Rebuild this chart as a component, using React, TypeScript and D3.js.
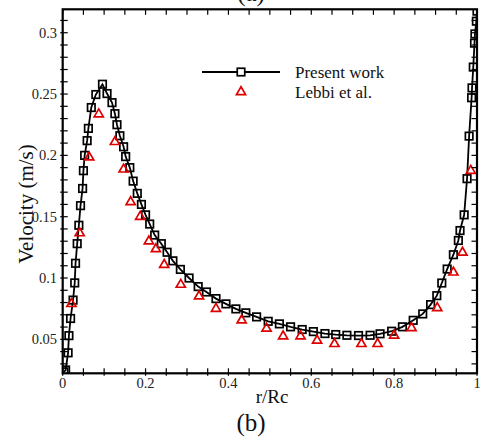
import { useEffect, useRef } from "react";
import * as d3 from "d3";

// Present work (simulation), r/Rc vs velocity
const presentR = [
  0.003, 0.007, 0.013, 0.015, 0.019, 0.025, 0.029, 0.031, 0.035, 0.039, 0.043,
  0.048, 0.05, 0.053, 0.059, 0.062, 0.069, 0.08, 0.096, 0.107, 0.119, 0.126,
  0.131, 0.138, 0.147, 0.152, 0.162, 0.17, 0.18, 0.19, 0.2, 0.21, 0.222, 0.238,
  0.252, 0.266, 0.284, 0.305, 0.327, 0.347, 0.37, 0.394, 0.418, 0.442, 0.468,
  0.496, 0.523, 0.55, 0.578, 0.605, 0.633, 0.659, 0.686, 0.714, 0.742, 0.766,
  0.794, 0.82, 0.846, 0.869, 0.888, 0.903, 0.915, 0.928, 0.943, 0.955, 0.959,
  0.969, 0.976, 0.981, 0.987, 0.988, 0.991, 0.994, 0.995, 0.9985, 1.0,
];
const presentV = [
  0.0235, 0.025, 0.039, 0.053, 0.067, 0.082, 0.096, 0.112, 0.128, 0.143, 0.159,
  0.173, 0.1875, 0.2, 0.212, 0.222, 0.239, 0.2496, 0.258, 0.2504, 0.243, 0.234,
  0.225, 0.216, 0.207, 0.199, 0.19, 0.179, 0.169, 0.16, 0.1515, 0.144, 0.135,
  0.128, 0.121, 0.114, 0.107, 0.1, 0.093, 0.0886, 0.0832, 0.0789, 0.0748,
  0.0716, 0.0683, 0.0647, 0.0626, 0.0602, 0.058, 0.0563, 0.0547, 0.0539,
  0.0533, 0.0531, 0.0533, 0.0545, 0.0566, 0.0602, 0.0655, 0.0707, 0.0783,
  0.0856, 0.0959, 0.1073, 0.119, 0.1306, 0.1387, 0.1515, 0.181, 0.2157, 0.247,
  0.255, 0.272, 0.2915, 0.299, 0.3094, 0.3176,
];

// Lebbi et al. (experiment)
const lebbiR = [
  0.021, 0.041, 0.064, 0.087, 0.126, 0.147, 0.164, 0.187, 0.208, 0.225, 0.245,
  0.285, 0.329, 0.37, 0.432, 0.492, 0.532, 0.574, 0.614, 0.656, 0.721, 0.76,
  0.8, 0.842, 0.904, 0.943, 0.965, 0.985,
];
const lebbiV = [
  0.0789, 0.1366, 0.1984, 0.2336, 0.211, 0.1886, 0.162, 0.15, 0.13, 0.1236,
  0.1108, 0.0946, 0.0851, 0.075, 0.0655, 0.0588, 0.0525, 0.0525, 0.049, 0.0463,
  0.0463, 0.0463, 0.0531, 0.0593, 0.0756, 0.1046, 0.1208, 0.1875,
];

const xTicks = [0, 0.2, 0.4, 0.6, 0.8, 1];
const xTickLabels = ["0", "0.2", "0.4", "0.6", "0.8", "1"];
const yTicks = [0.05, 0.1, 0.15, 0.2, 0.25, 0.3];
const yTickLabels = ["0.05", "0.1", "0.15", "0.2", "0.25", "0.3"];
const seriesNames = ["Present work", "Lebbi et al."];

const W = 481;
const H = 438;
const FONT = "'Liberation Serif', 'Times New Roman', serif";

export default function App() {
  const svgRef = useRef(null);

  useEffect(() => {
    const svg = d3.select(svgRef.current);
    svg.selectAll("*").remove();

    const left = 62.7, right = 477, top = 9.3, bottom = 373.3;
    const x = d3.scaleLinear().domain([0, 1]).range([left, right]);
    const y = d3.scaleLinear().domain([0.0223, 0.3191]).range([bottom, top]);

    svg.append("defs").append("clipPath").attr("id", "plotclip")
      .append("rect").attr("x", left).attr("y", top)
      .attr("width", right - left).attr("height", bottom - top);

    const plot = svg.append("g").attr("clip-path", "url(#plotclip)");

    const present = presentR.map((r, i) => [r, presentV[i]]);
    const lebbi = lebbiR.map((r, i) => [r, lebbiV[i]]);

    const line = d3.line().x((d) => x(d[0])).y((d) => y(d[1]));
    plot.append("path").datum(present)
      .attr("d", line).attr("fill", "none")
      .attr("stroke", "#000").attr("stroke-width", 1.8);

    const sq = 7.5;
    plot.selectAll(".sq").data(present).enter().append("rect")
      .attr("x", (d) => x(d[0]) - sq / 2).attr("y", (d) => y(d[1]) - sq / 2)
      .attr("width", sq).attr("height", sq)
      .attr("fill", "none").attr("stroke", "#000").attr("stroke-width", 1.7);

    const tri = d3.symbol().type(d3.symbolTriangle).size(36);
    plot.selectAll(".tri").data(lebbi).enter().append("path")
      .attr("d", tri)
      .attr("transform", (d) => `translate(${x(d[0])},${y(d[1])})`)
      .attr("fill", "none").attr("stroke", "#dd0000").attr("stroke-width", 1.7);

    // ticks
    const xMinor = d3.range(0, 1.0001, 0.05);
    const yMinor = d3.range(0.03, 0.3191, 0.01);
    const tk = svg.append("g").attr("stroke", "#000").attr("stroke-width", 1.2);
    xMinor.forEach((t) => {
      tk.append("line").attr("x1", x(t)).attr("x2", x(t))
        .attr("y1", bottom + 2.5).attr("y2", bottom - 5);
      tk.append("line").attr("x1", x(t)).attr("x2", x(t))
        .attr("y1", top).attr("y2", top + 5.5);
    });
    yMinor.forEach((t) => {
      tk.append("line").attr("y1", y(t)).attr("y2", y(t))
        .attr("x1", left - 2.5).attr("x2", left + 5);
      tk.append("line").attr("y1", y(t)).attr("y2", y(t))
        .attr("x1", right).attr("x2", right - 5.5);
    });

    // frame
    svg.append("rect").attr("x", left).attr("y", top)
      .attr("width", right - left).attr("height", bottom - top)
      .attr("fill", "none").attr("stroke", "#000").attr("stroke-width", 2.2);

    // tick labels
    svg.selectAll(".xl").data(xTicks).enter().append("text")
      .attr("x", (d) => x(d)).attr("y", 387.5)
      .attr("text-anchor", "middle").attr("font-family", FONT)
      .attr("font-size", 14.5).attr("fill", "#222")
      .text((d, i) => xTickLabels[i]);
    svg.selectAll(".yl").data(yTicks).enter().append("text")
      .attr("x", 57).attr("y", (d) => y(d) + 5)
      .attr("text-anchor", "end").attr("font-family", FONT)
      .attr("font-size", 14.5).attr("fill", "#222")
      .text((d, i) => yTickLabels[i]);

    // axis titles
    svg.append("text").attr("x", 272).attr("y", 403)
      .attr("text-anchor", "middle").attr("font-family", FONT)
      .attr("font-size", 19).attr("fill", "#111").text("r/Rc");
    svg.append("text")
      .attr("transform", "translate(33,204) rotate(-90)")
      .attr("text-anchor", "middle").attr("font-family", FONT)
      .attr("font-size", 21).attr("fill", "#111").text("Velocity (m/s)");
    svg.append("text").attr("x", 251).attr("y", 431)
      .attr("text-anchor", "middle").attr("font-family", FONT)
      .attr("font-size", 25).attr("fill", "#111").text("(b)");
    svg.append("text").attr("x", 251).attr("y", 1)
      .attr("text-anchor", "middle").attr("font-family", FONT)
      .attr("font-size", 25).attr("fill", "#111").text("(a)");

    // legend
    const lg = svg.append("g");
    lg.append("line").attr("x1", 202).attr("x2", 280).attr("y1", 72).attr("y2", 72)
      .attr("stroke", "#000").attr("stroke-width", 1.8);
    lg.append("rect").attr("x", 241 - sq / 2).attr("y", 72 - sq / 2)
      .attr("width", sq).attr("height", sq)
      .attr("fill", "#fff").attr("stroke", "#000").attr("stroke-width", 1.7);
    lg.append("path").attr("d", tri).attr("transform", "translate(241,92)")
      .attr("fill", "none").attr("stroke", "#dd0000").attr("stroke-width", 1.7);
    lg.selectAll(".lt").data(seriesNames).enter().append("text")
      .attr("x", 295).attr("y", (d, i) => 78 + i * 20)
      .attr("font-family", FONT).attr("font-size", 17).attr("fill", "#111")
      .text((d) => d);
  }, []);

  return (
    <svg
      ref={svgRef}
      width={W}
      height={H}
      style={{ position: "absolute", left: 0, top: 0, background: "#fff" }}
    ></svg>
  );
}
